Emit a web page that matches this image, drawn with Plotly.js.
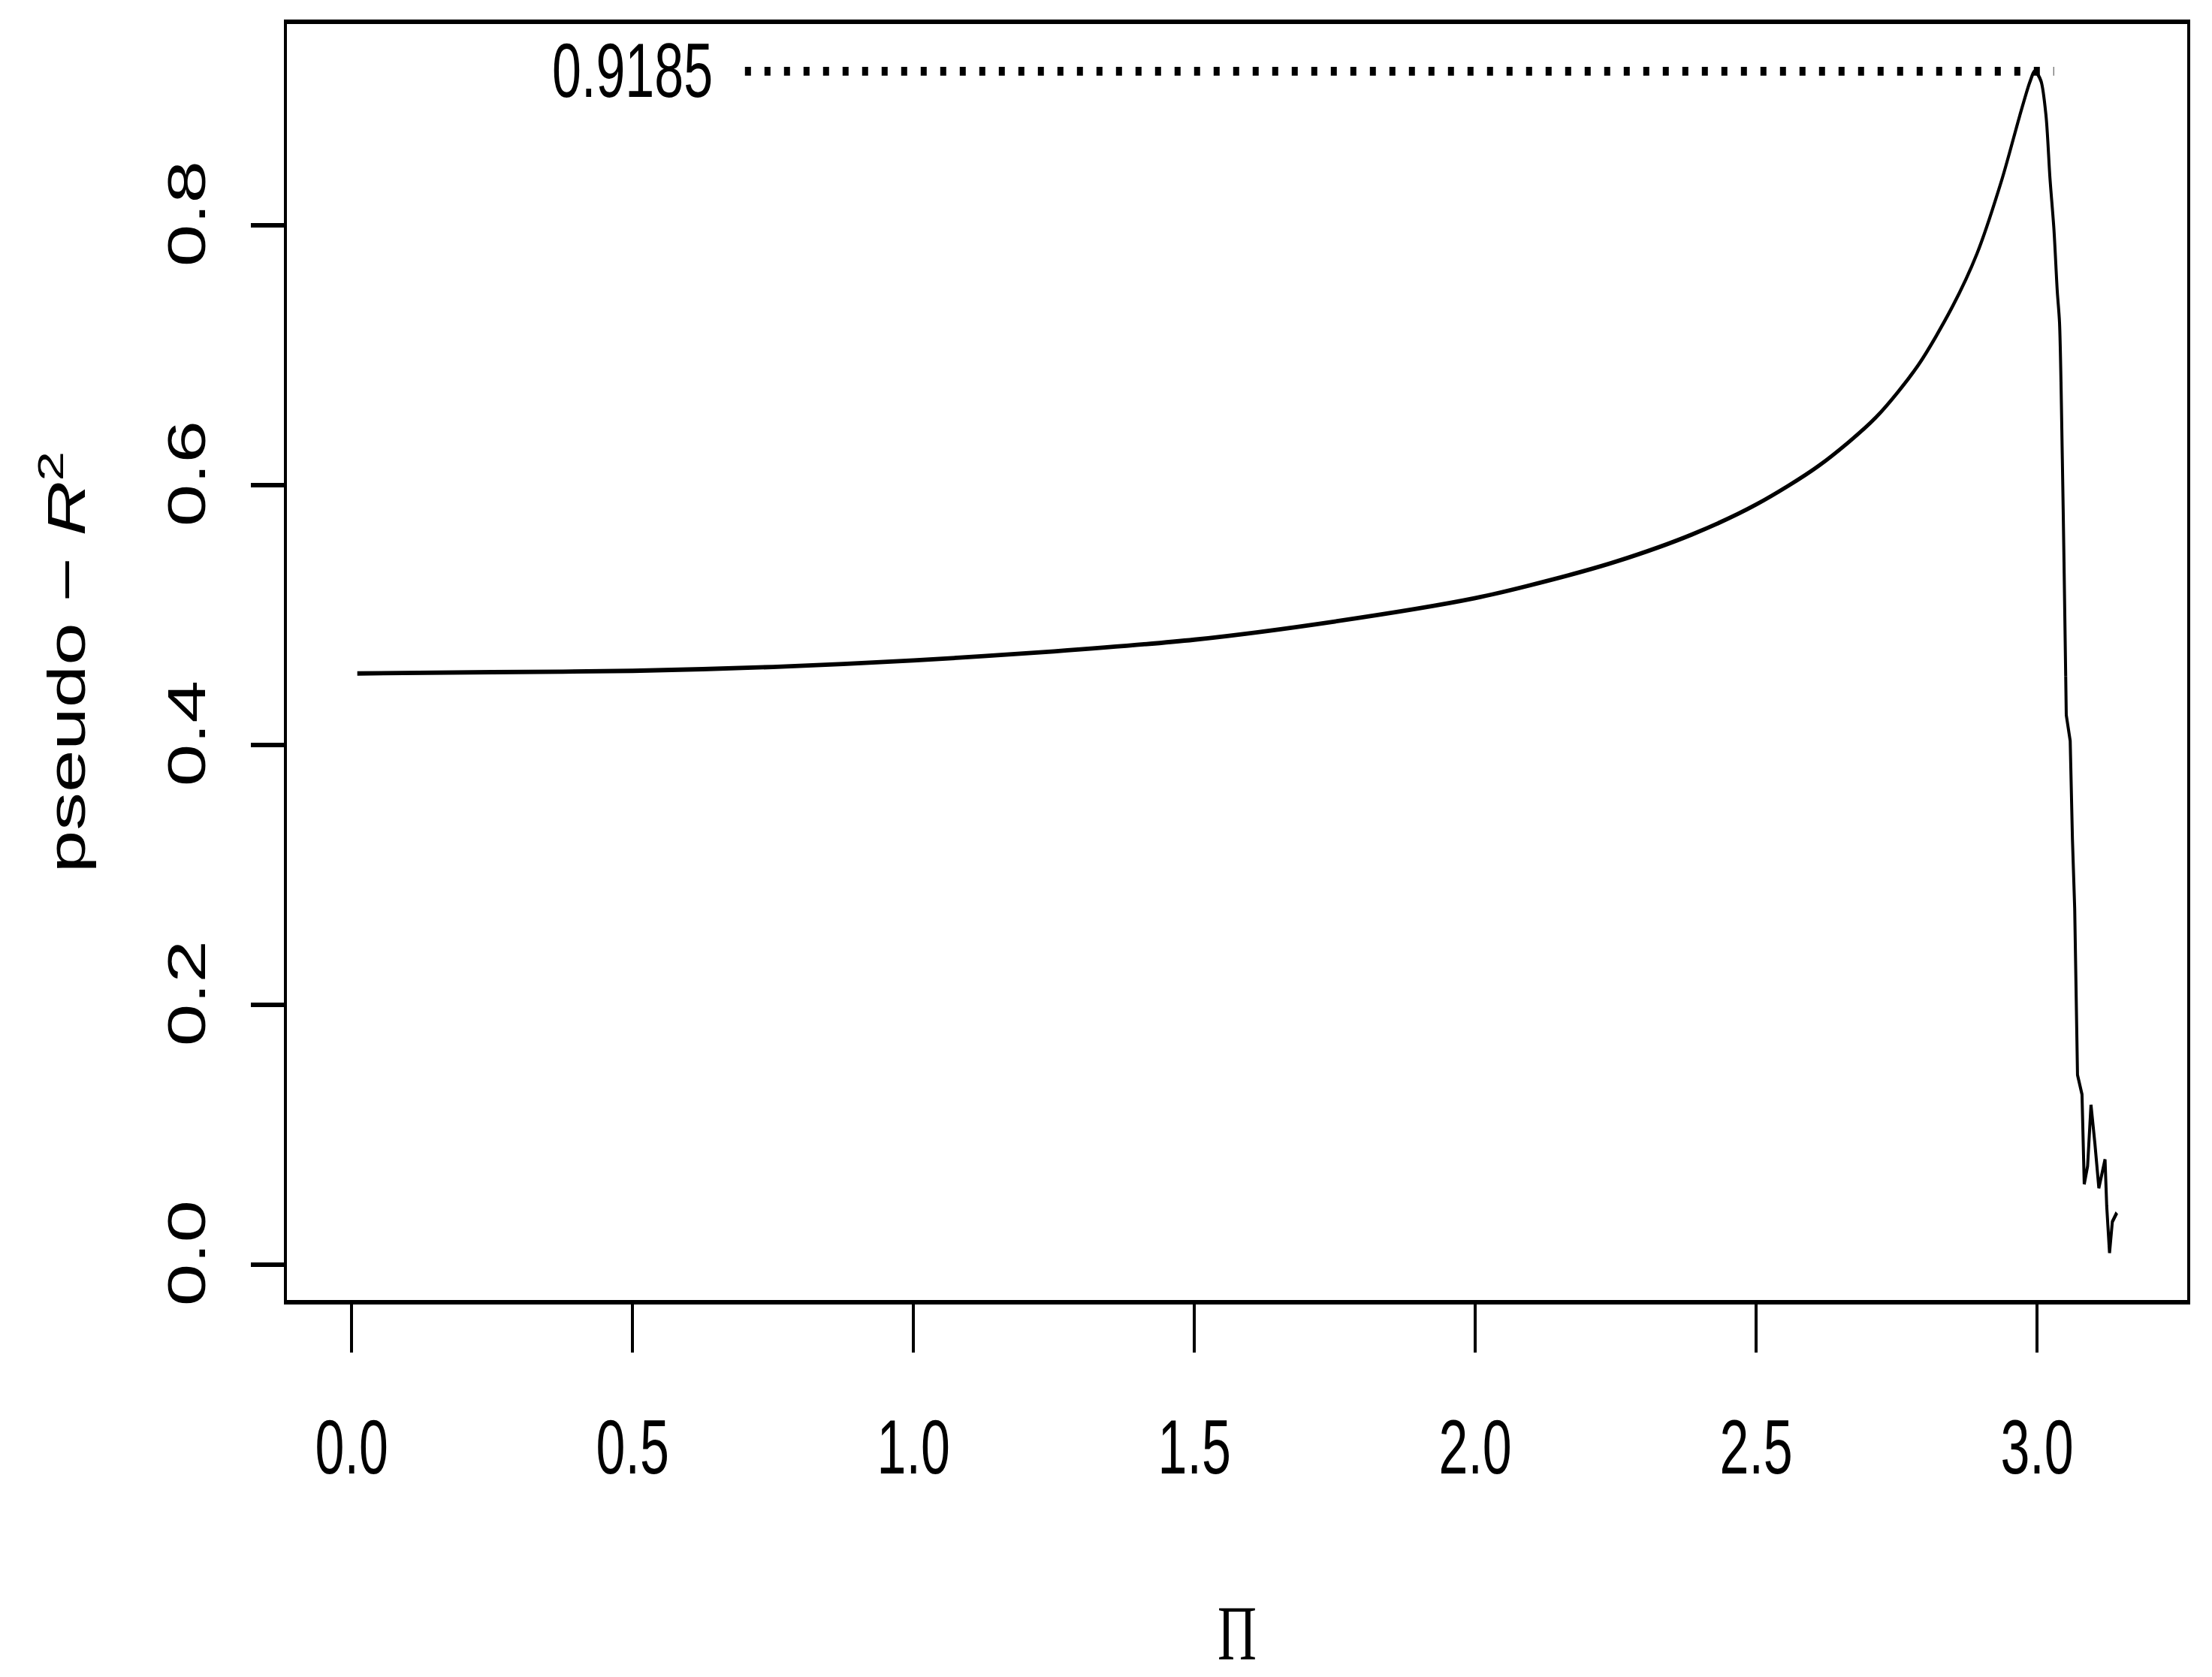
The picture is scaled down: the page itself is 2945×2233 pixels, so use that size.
<!DOCTYPE html>
<html>
<head>
<meta charset="utf-8">
<script src="https://cdn.plot.ly/plotly-3.0.1.min.js"></script>
<style>
html, body { margin: 0; padding: 0; background: #ffffff; overflow: hidden; }
#wrap { width: 2945px; height: 2233px; overflow: hidden; }
#plot { width: 2945px; height: 1540px; transform: scaleY(1.45); transform-origin: 0 0; }
</style>
</head>
<body>
<div id="wrap"><div id="plot"></div></div>
<script>
// ---- data ----
const piValues = [0.01, 0.25, 0.5, 0.75, 1.0, 1.25, 1.5, 1.75, 2.0, 2.135, 2.25, 2.386, 2.5, 2.612, 2.713, 2.788,
  2.849, 2.893, 2.938, 2.969, 2.987, 2.996, 3.007, 3.016, 3.023, 3.030, 3.036, 3.040, 3.045, 3.048, 3.051, 3.052,
  3.059, 3.061, 3.063, 3.067, 3.070, 3.072, 3.080, 3.084, 3.090, 3.096, 3.103, 3.110, 3.121, 3.124, 3.129, 3.134, 3.142];
const pseudoR2 = [0.455, 0.456, 0.457, 0.460, 0.465, 0.472, 0.481, 0.495, 0.513, 0.527, 0.541, 0.562, 0.585, 0.615, 0.652, 0.692,
  0.737, 0.778, 0.836, 0.884, 0.910, 0.9185, 0.911, 0.884, 0.836, 0.797, 0.749, 0.725, 0.62, 0.54, 0.453, 0.423,
  0.403, 0.362, 0.327, 0.274, 0.196, 0.146, 0.131, 0.062, 0.076, 0.123, 0.093, 0.059, 0.081, 0.045, 0.009, 0.033, 0.040];
const smoothUntil = 31;   // points before this index form the smooth part of the curve
const maxValue = 0.9185;
const maxLabel = "0.9185";
const maxLabelX = 0.5;
const refLineX = [0.70, 3.03];
const xTickVals = [0, 0.5, 1, 1.5, 2, 2.5, 3];
const xTickText = ["0.0", "0.5", "1.0", "1.5", "2.0", "2.5", "3.0"];
const yTickVals = [0, 0.2, 0.4, 0.6, 0.8];
const yTickText = ["0.0", "0.2", "0.4", "0.6", "0.8"];
const xTitle = "\u03A0";
const yTitle = "pseudo \u2212 <i>R</i><sup>2</sup>";

// R-style 4% axis padding
function padRange(arr) {
  const lo = Math.min.apply(null, arr), hi = Math.max.apply(null, arr);
  const d = (hi - lo) * 0.04;
  return [lo - d, hi + d];
}
const xRange = padRange(piValues);
const yRange = padRange(pseudoR2);

const SANS = "Liberation Sans, Arial, Helvetica, sans-serif";
const SERIF = "Liberation Serif, Times New Roman, serif";

const traces = [
  {
    x: piValues.slice(0, smoothUntil), y: pseudoR2.slice(0, smoothUntil), type: "scatter", mode: "lines",
    line: { color: "#000000", width: 4, shape: "spline", smoothing: 0.8 }, hoverinfo: "skip", showlegend: false
  },
  {
    x: piValues.slice(smoothUntil - 1), y: pseudoR2.slice(smoothUntil - 1), type: "scatter", mode: "lines",
    line: { color: "#000000", width: 4 }, hoverinfo: "skip", showlegend: false
  },
  {
    x: refLineX, y: [maxValue, maxValue], type: "scatter", mode: "lines",
    line: { color: "#000000", width: 8, dash: "8px,18px" }, hoverinfo: "skip", showlegend: false
  }
];

const layout = {
  width: 2945, height: 1540,
  margin: { l: 382, r: 33, t: 22, b: 346, pad: 0 },
  paper_bgcolor: "#ffffff", plot_bgcolor: "#ffffff",
  font: { family: SANS, size: 70, color: "#000000" },
  showlegend: false,
  xaxis: {
    range: xRange, showgrid: false, zeroline: false,
    showline: true, mirror: true, linecolor: "#000000", linewidth: 4,
    ticks: "outside", ticklen: 44, tickwidth: 4, tickcolor: "#000000",
    tickmode: "array", tickvals: xTickVals, ticktext: xTickText,
    ticklabelstandoff: 27,
    tickfont: { family: SANS, size: 70, color: "#000000" },
    title: { text: xTitle, font: { family: SERIF, size: 72, color: "#000000" }, standoff: 126 }
  },
  yaxis: {
    range: yRange, showgrid: false, zeroline: false,
    showline: true, mirror: true, linecolor: "#000000", linewidth: 4,
    ticks: "outside", ticklen: 44, tickwidth: 4, tickcolor: "#000000",
    tickmode: "array", tickvals: yTickVals, ticktext: yTickText,
    tickangle: -90, ticklabelstandoff: 33,
    tickfont: { family: SANS, size: 70, color: "#000000" },
    title: { text: yTitle, font: { family: SANS, size: 70, color: "#000000" }, standoff: 74 }
  },
  annotations: [
    {
      x: maxLabelX, y: maxValue, xref: "x", yref: "y", text: maxLabel, showarrow: false,
      xanchor: "center", yanchor: "middle", font: { family: SANS, size: 70, color: "#000000" }
    }
  ]
};

Plotly.newPlot("plot", traces, layout, { staticPlot: true, displayModeBar: false });
</script>
</body>
</html>
